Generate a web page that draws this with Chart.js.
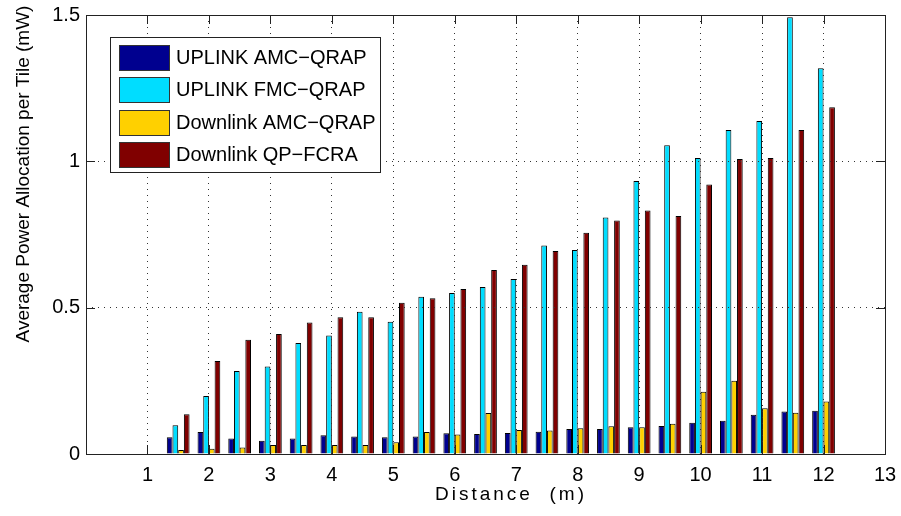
<!DOCTYPE html>
<html>
<head>
<meta charset="utf-8">
<script src="https://cdn.jsdelivr.net/npm/chart.js@4/dist/chart.umd.min.js"></script>
<style>
  body { margin: 0; background: #fff; }
  #wrap { width: 901px; height: 516px; }
</style>
</head>
<body>
<div id="wrap"><canvas id="myChart" width="901" height="516"></canvas></div>
<script>
// distance (m) of each bar group
var distances = [1.5, 2, 2.5, 3, 3.5, 4, 4.5, 5, 5.5, 6, 6.5, 7, 7.5, 8, 8.5, 9, 9.5, 10, 10.5, 11, 11.5, 12];

// average power per tile (mW)
var uplinkAmc   = [0.057, 0.075, 0.053, 0.045, 0.053, 0.064, 0.060, 0.057, 0.060, 0.071, 0.068, 0.072, 0.076, 0.085, 0.085, 0.091, 0.096, 0.107, 0.114, 0.134, 0.145, 0.148];
var uplinkFmc   = [0.098, 0.198, 0.284, 0.299, 0.379, 0.405, 0.486, 0.452, 0.537, 0.550, 0.571, 0.598, 0.712, 0.697, 0.808, 0.933, 1.055, 1.011, 1.107, 1.138, 1.492, 1.318];
var downlinkAmc = [0.014, 0.018, 0.022, 0.031, 0.031, 0.031, 0.031, 0.040, 0.075, 0.067, 0.140, 0.082, 0.080, 0.088, 0.095, 0.091, 0.103, 0.213, 0.250, 0.156, 0.141, 0.179];
var downlinkQp  = [0.136, 0.318, 0.390, 0.410, 0.449, 0.467, 0.467, 0.517, 0.532, 0.564, 0.629, 0.647, 0.694, 0.756, 0.798, 0.832, 0.813, 0.921, 1.008, 1.011, 1.107, 1.185];

var seriesNames = ["UPLINK AMC\u2212QRAP", "UPLINK FMC\u2212QRAP", "Downlink AMC\u2212QRAP", "Downlink QP\u2212FCRA"];
var seriesColors = ["#00008F", "#00DDFF", "#FFD000", "#800000"];

var xTicks = [1, 2, 3, 4, 5, 6, 7, 8, 9, 10, 11, 12, 13];
var yTicks = [0, 0.5, 1, 1.5];

var xTitle = "Distance  (m)";
var yTitle = "Average Power Allocation per Tile (mW)";

function toPoints(values) {
  return values.map(function(v, i) { return {x: distances[i], y: v}; });
}

var allSeries = [uplinkAmc, uplinkFmc, downlinkAmc, downlinkQp];
var datasets = [];
for (var s = 0; s < allSeries.length; s++) {
  datasets.push({
    label: seriesNames[s],
    data: toPoints(allSeries[s]),
    backgroundColor: seriesColors[s],
    borderColor: "#000",
    borderWidth: 1,
    categoryPercentage: 0.74,
    barPercentage: 1.0
  });
}

var FONT = "'Liberation Sans', Arial, Helvetica, sans-serif";

// frame, inward ticks, axis titles and the boxed legend (MATLAB look)
var matlabLook = {
  id: "matlabLook",
  afterDraw: function(chart) {
    var ctx = chart.ctx;
    var a = chart.chartArea;
    var xs = chart.scales.x, ys = chart.scales.y;
    var tl = 9;

    ctx.save();
    ctx.strokeStyle = "#222";
    ctx.lineWidth = 1;
    ctx.strokeRect(Math.round(a.left) + 0.5, Math.round(a.top) + 0.5,
                   Math.round(a.right - a.left), Math.round(a.bottom - a.top));

    ctx.beginPath();
    xTicks.forEach(function(t) {
      var px = Math.round(xs.getPixelForValue(t)) + 0.5;
      ctx.moveTo(px, a.bottom); ctx.lineTo(px, a.bottom - tl);
      ctx.moveTo(px, a.top); ctx.lineTo(px, a.top + tl);
    });
    yTicks.forEach(function(t) {
      var py = Math.round(ys.getPixelForValue(t)) + 0.5;
      ctx.moveTo(a.left, py); ctx.lineTo(a.left + tl, py);
      ctx.moveTo(a.right, py); ctx.lineTo(a.right - tl, py);
    });
    ctx.stroke();

    // axis titles
    ctx.fillStyle = "#000";
    ctx.font = "19px " + FONT;
    ctx.textBaseline = "alphabetic";
    ctx.save();
    ctx.translate(29, 174);
    ctx.rotate(-Math.PI / 2);
    ctx.textAlign = "center";
    ctx.fillText(yTitle, 0, 0);
    ctx.restore();

    ctx.textAlign = "left";
    if ("letterSpacing" in ctx) ctx.letterSpacing = "3px";
    ctx.fillText(xTitle, 435, 500);
    if ("letterSpacing" in ctx) ctx.letterSpacing = "0px";

    // legend
    var bx = 110.5, by = 37.5, bw = 270, bh = 135;
    ctx.fillStyle = "#fff";
    ctx.fillRect(bx, by, bw, bh);
    ctx.strokeStyle = "#222";
    ctx.strokeRect(bx, by, bw, bh);
    ctx.font = "20px " + FONT;
    ctx.textBaseline = "middle";
    chart.data.datasets.forEach(function(ds, i) {
      var sy = 44.5 + i * 32.6;
      ctx.fillStyle = ds.backgroundColor;
      ctx.fillRect(119.5, Math.round(sy) + 0.5, 50, 25);
      ctx.strokeStyle = "#333";
      ctx.strokeRect(119.5, Math.round(sy) + 0.5, 50, 25);
      ctx.fillStyle = "#000";
      ctx.fillText(ds.label, 176, sy + 13.5);
    });
    ctx.restore();
  }
};

new Chart(document.getElementById("myChart"), {
  type: "bar",
  data: { datasets: datasets },
  plugins: [matlabLook],
  options: {
    responsive: false,
    animation: false,
    devicePixelRatio: 1,
    layout: { padding: { top: 15, right: 16, left: 0, bottom: 0 } },
    plugins: {
      legend: { display: false },
      tooltip: { enabled: false }
    },
    scales: {
      x: {
        type: "linear",
        min: 0,
        max: 13,
        offset: false,
        afterFit: function(scale) {
          scale.height = 62;
          scale.paddingLeft = 0;
          scale.paddingRight = 0;
        },
        ticks: {
          stepSize: 1,
          padding: 9,
          color: "#000",
          font: { family: FONT, size: 20 },
          maxRotation: 0,
          callback: function(v) { return xTicks.indexOf(v) >= 0 ? String(v) : ""; }
        },
        grid: { offset: false, drawTicks: false, color: "#333", lineWidth: 1, z: 1 },
        border: { display: false, dash: [1, 5] }
      },
      y: {
        min: 0,
        max: 1.5,
        afterFit: function(scale) {
          scale.width = 86;
          scale.paddingTop = 0;
          scale.paddingBottom = 0;
        },
        ticks: {
          stepSize: 0.5,
          padding: 6,
          color: "#000",
          font: { family: FONT, size: 20 },
          callback: function(v) { return yTicks.indexOf(v) >= 0 ? String(v) : ""; }
        },
        grid: { drawTicks: false, color: "#333", lineWidth: 1, z: 1 },
        border: { display: false, dash: [1, 5] }
      }
    }
  }
});
</script>
</body>
</html>
